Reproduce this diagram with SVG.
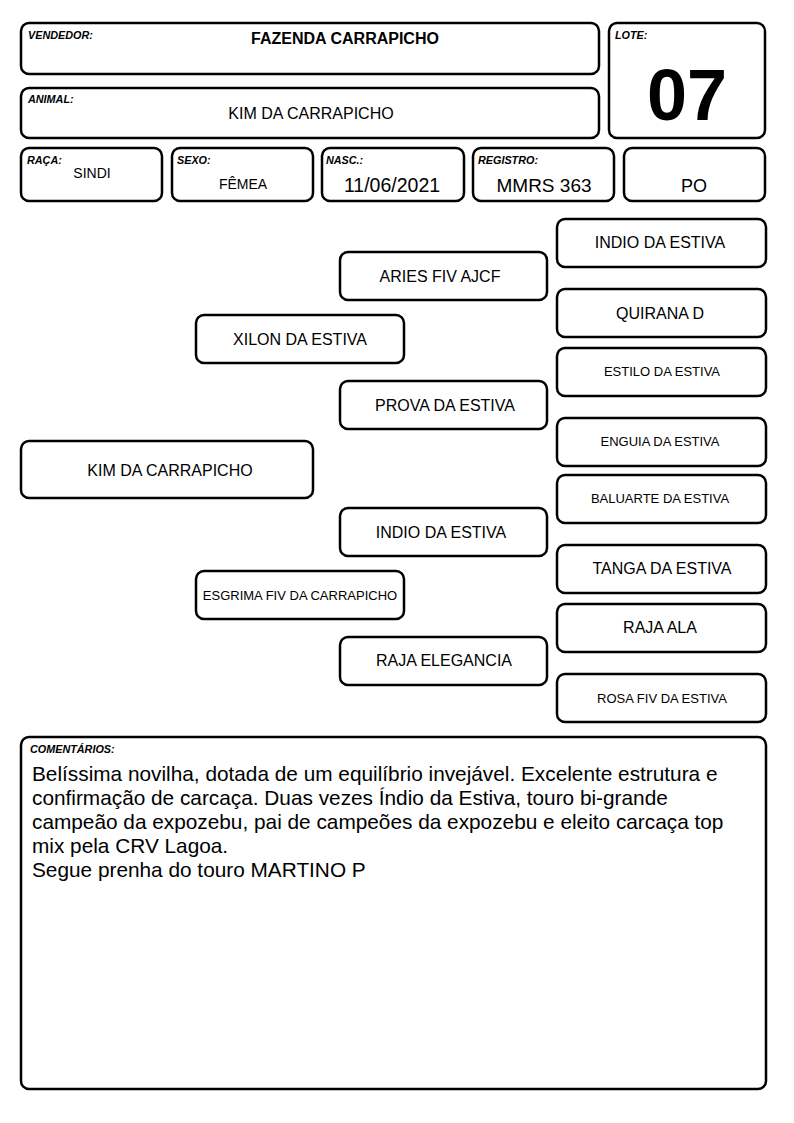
<svg xmlns="http://www.w3.org/2000/svg" width="794" height="1123" viewBox="0 0 794 1123">
<style>
.b{fill:#fff;stroke:#000;stroke-width:2.5}
.t{font-family:"Liberation Sans",Arial,sans-serif;fill:#000;text-anchor:middle}
.l{font-family:"Liberation Sans",Arial,sans-serif;font-size:10.8px;font-weight:bold;font-style:italic;fill:#000}
.m{font-size:16px}
.s{font-size:13px}
.c{font-family:"Liberation Sans",Arial,sans-serif;font-size:20.8px;fill:#000}
</style>
<rect width="794" height="1123" fill="#fff"/>
<g id="vendedor"><rect class="b" x="21" y="23" width="578" height="51" rx="8"/><text class="l" x="28" y="39">VENDEDOR:</text><text class="t" x="345" y="44" font-size="16" font-weight="bold">FAZENDA CARRAPICHO</text></g>
<g id="lote"><rect class="b" x="609" y="23" width="156" height="115" rx="8"/><text class="l" x="615" y="39">LOTE:</text><text class="t" x="687" y="120" font-size="72" font-weight="bold">07</text></g>
<g id="animal"><rect class="b" x="21" y="88" width="578" height="50" rx="8"/><text class="l" x="28" y="103">ANIMAL:</text><text class="t m" x="311" y="119">KIM DA CARRAPICHO</text></g>
<g id="raca"><rect class="b" x="21" y="148" width="141" height="53" rx="8"/><text class="l" x="27" y="164">RAÇA:</text><text class="t" x="92" y="178" font-size="14">SINDI</text></g>
<g id="sexo"><rect class="b" x="172" y="148" width="141" height="53" rx="8"/><text class="l" x="177" y="164">SEXO:</text><text class="t" x="243" y="189" font-size="14">FÊMEA</text></g>
<g id="nasc"><rect class="b" x="322" y="148" width="142" height="53" rx="8"/><text class="l" x="326" y="164">NASC.:</text><text class="t" x="392" y="192" font-size="19.5">11/06/2021</text></g>
<g id="registro"><rect class="b" x="473" y="148" width="141" height="53" rx="8"/><text class="l" x="478" y="164">REGISTRO:</text><text class="t" x="544" y="192" font-size="19">MMRS 363</text></g>
<g id="po"><rect class="b" x="624" y="148" width="141" height="53" rx="8"/><text class="t" x="694" y="192" font-size="18">PO</text></g>
<g id="connectors"></g>
<g id="n-kim"><rect class="b" x="21" y="441" width="292" height="57" rx="8"/><text class="t m" x="170" y="476">KIM DA CARRAPICHO</text></g>
<g id="n-xilon"><rect class="b" x="196" y="315" width="208" height="48" rx="8"/><text class="t m" x="300" y="345">XILON DA ESTIVA</text></g>
<g id="n-esgrima"><rect class="b" x="196" y="571" width="208" height="48" rx="8"/><text class="t s" x="300" y="600">ESGRIMA FIV DA CARRAPICHO</text></g>
<g id="n-aries"><rect class="b" x="340" y="252" width="207" height="48" rx="8"/><text class="t m" x="440" y="282">ARIES FIV AJCF</text></g>
<g id="n-prova"><rect class="b" x="340" y="381" width="207" height="48" rx="8"/><text class="t m" x="445" y="411">PROVA DA ESTIVA</text></g>
<g id="n-indio2"><rect class="b" x="340" y="508" width="207" height="48" rx="8"/><text class="t m" x="441" y="538">INDIO DA ESTIVA</text></g>
<g id="n-raja-el"><rect class="b" x="340" y="637" width="207" height="48" rx="8"/><text class="t m" x="444" y="666">RAJA ELEGANCIA</text></g>
<g id="n-indio1"><rect class="b" x="557" y="219" width="209" height="48" rx="8"/><text class="t m" x="660" y="248">INDIO DA ESTIVA</text></g>
<g id="n-quirana"><rect class="b" x="557" y="289" width="209" height="48" rx="8"/><text class="t m" x="660" y="319">QUIRANA D</text></g>
<g id="n-estilo"><rect class="b" x="557" y="348" width="209" height="48" rx="8"/><text class="t s" x="662" y="376">ESTILO DA ESTIVA</text></g>
<g id="n-enguia"><rect class="b" x="557" y="418" width="209" height="48" rx="8"/><text class="t s" x="660" y="446">ENGUIA DA ESTIVA</text></g>
<g id="n-baluarte"><rect class="b" x="557" y="475" width="209" height="48" rx="8"/><text class="t s" x="660" y="503">BALUARTE DA ESTIVA</text></g>
<g id="n-tanga"><rect class="b" x="557" y="545" width="209" height="48" rx="8"/><text class="t m" x="662" y="574">TANGA DA ESTIVA</text></g>
<g id="n-raja-ala"><rect class="b" x="557" y="604" width="209" height="48" rx="8"/><text class="t m" x="660" y="633">RAJA ALA</text></g>
<g id="n-rosa"><rect class="b" x="557" y="674" width="209" height="48" rx="8"/><text class="t s" x="662" y="703">ROSA FIV DA ESTIVA</text></g>
<g id="comentarios"><rect class="b" x="21" y="737" width="745" height="352" rx="8"/><text class="l" x="30" y="753">COMENTÁRIOS:</text>
<text class="c" x="32" y="781">Belíssima novilha, dotada de um equilíbrio invejável. Excelente estrutura e</text>
<text class="c" x="32" y="805">confirmação de carcaça. Duas vezes Índio da Estiva, touro bi-grande</text>
<text class="c" x="32" y="829">campeão da expozebu, pai de campeões da expozebu e eleito carcaça top</text>
<text class="c" x="32" y="853">mix pela CRV Lagoa.</text>
<text class="c" x="32" y="877">Segue prenha do touro MARTINO P</text>
</g>
</svg>
